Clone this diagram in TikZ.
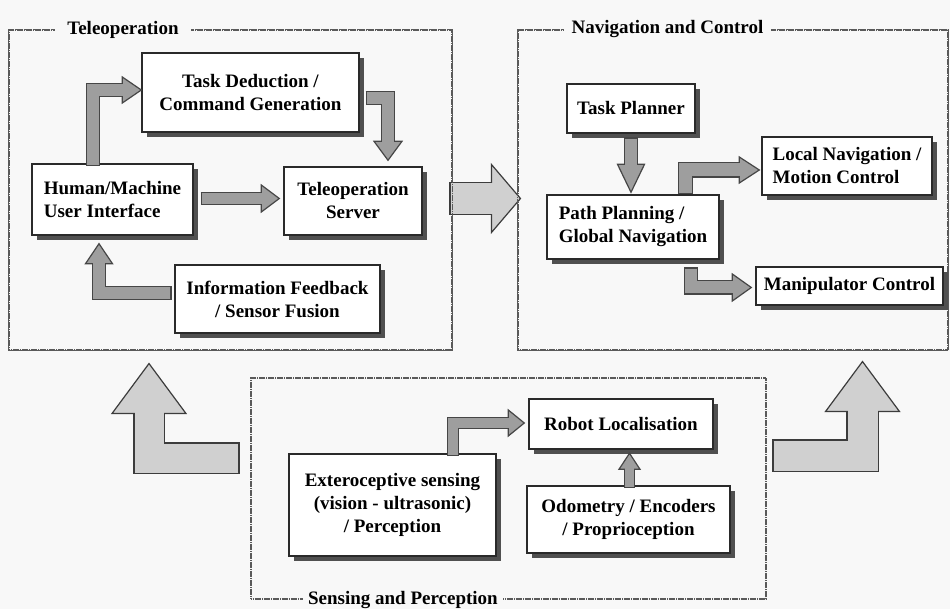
\documentclass[tikz,border=0pt]{standalone}
\usepackage{fontspec}
\setmainfont{Liberation Serif}
\usetikzlibrary{calc,shadows}

\definecolor{paper}{HTML}{F8F8F8}
\definecolor{edge}{HTML}{2A2A2A}
\definecolor{shade}{HTML}{505050}
\definecolor{smallfill}{HTML}{9E9E9E}
\definecolor{smalledgecol}{HTML}{464646}
\definecolor{bigfill}{HTML}{D0D0D0}
\definecolor{bigedgecol}{HTML}{3C3C3C}
\definecolor{framecol}{HTML}{5A5A5A}

\tikzset{
  box/.style={draw=edge, line width=1.4pt, fill=white, inner sep=0pt,
    drop shadow={shadow xshift=5pt, shadow yshift=-5pt, fill=shade, opacity=1}},
  group/.style={draw=framecol, line width=1.1pt, dash pattern=on 1.4pt off 0.4pt, inner sep=0pt},
  grouplabel/.style={fill=paper, inner xsep=8pt, inner ysep=1pt},
  txt/.style={font=\bfseries\fontsize{19}{23}\selectfont, align=center},
  small edge/.style={draw=smalledgecol},
  small body/.style={draw=smallfill},
  small head/.style={fill=smallfill, draw=smalledgecol, line width=1.2pt, line join=miter},
  big edge/.style={draw=bigedgecol},
  big body/.style={draw=bigfill},
  big head/.style={fill=bigfill, draw=bigedgecol, line width=1.2pt, line join=miter},
}

% Block arrow: #1 kind (small|big), #2 shaft width, #3 head half-width,
% #4 head length, #5 start, #6 path operation, #7 head base, #8 direction
\newcommand\fatconn[8]{%
  \draw[#1 edge, line width=#2pt+2.4pt, shorten <=-1.2pt, line join=miter] #5 #6 #7;
  \begin{scope}[shift={#7}, rotate=#8]
    \filldraw[#1 head] (0,-#3) -- (#4,0) -- (0,#3) -- cycle;
  \end{scope}
  \draw[#1 body, line width=#2pt, shorten >=-2pt, line join=miter] #5 #6 #7;
}

\begin{document}
\begin{tikzpicture}[x=1pt, y=-1pt]
\useasboundingbox (0,0) rectangle (950,609);
\fill[paper] (0,0) rectangle (950,609);

% group frames
\node[group, minimum width=443pt, minimum height=320pt] (teleop) at (230.5,190) {};
\node[group, minimum width=430pt, minimum height=320pt] (nav) at (733,190) {};
\node[group, minimum width=515pt, minimum height=221pt] (sensing) at (508.5,488.5) {};

% flows between the groups
\fatconn{big}{31}{34}{29}{($(teleop.east)+(-2,8.5)$)}{--}{($(nav.west)+(-26,8.5)$)}{0}
\fatconn{big}{29}{37}{50}{($(sensing.west)+(-12,-30.5)$)}{-|}{($(teleop.south)+(-81.5,63)$)}{90}
\fatconn{big}{30}{37}{50}{($(sensing.east)+(7,-33)$)}{-|}{($(nav.south)+(129.5,61)$)}{90}

% redraw frame edges over the big arrows
\draw[group] (teleop.north west) rectangle (teleop.south east);
\draw[group] (nav.north west) rectangle (nav.south east);

% group titles
\node[txt, grouplabel, inner xsep=12pt] (teleoplabel) at ($(teleop.north west)+(114.5,0)$) {Teleoperation};
\node[txt, grouplabel] (navlabel) at ($(nav.north west)+(150,0)$) {Navigation and Control};
\node[txt, grouplabel, inner xsep=5pt] (senslabel) at ($(sensing.south west)+(152.5,0)$) {Sensing and Perception};

% boxes
\node[box, txt, minimum width=217pt, minimum height=79pt] (task) at (250.5,92.5) {Task Deduction /\\Command Generation};
\node[box, txt, align=left, minimum width=161pt, minimum height=71pt] (hmi) at (112.5,199.5) {Human/Machine\\User Interface};
\node[box, txt, minimum width=138pt, minimum height=68pt] (server) at (353,201) {Teleoperation\\Server};
\node[box, txt, minimum width=205pt, minimum height=68pt] (info) at (277.5,299) {Information Feedback\\/ Sensor Fusion};

\node[box, txt, minimum width=128pt, minimum height=49pt] (planner) at (631,108.5) {Task Planner};
\node[box, txt, align=left, minimum width=172pt, minimum height=64pt] (path) at (633,227) {Path Planning /\\Global Navigation};
\node[box, txt, align=left, minimum width=170pt, minimum height=58pt] (local) at (847,166) {Local Navigation /\\Motion Control};
\node[box, txt, minimum width=187pt, minimum height=38pt] (manip) at (849.5,286) {Manipulator Control};

\node[box, txt, minimum width=207pt, minimum height=102pt] (extero) at (392.5,505) {Exteroceptive sensing\\(vision - ultrasonic)\\/ Perception};
\node[box, txt, minimum width=184pt, minimum height=50pt] (robot) at (621,424) {Robot Localisation};
\node[box, txt, minimum width=203pt, minimum height=67pt] (odo) at (628.5,519.5) {Odometry / Encoders\\/ Proprioception};

% teleoperation flows
\fatconn{small}{12}{13}{19}{($(hmi.north)+(-19.5,1.5)$)}{|-}{($(task.west)+(-19,-2.5)$)}{0}
\fatconn{small}{12.5}{14}{19}{($(task.east)+(7,5.5)$)}{-|}{($(server.north)+(35,-25)$)}{-90}
\fatconn{small}{11.5}{13.5}{18}{($(hmi.east)+(8,-1)$)}{--}{($(server.west)+(-22,-2.5)$)}{0}
\fatconn{small}{12}{13.5}{20}{($(info.west)+(-4,-6)$)}{-|}{($(hmi.south)+(-13.5,28)$)}{90}

% navigation flows
\fatconn{small}{12}{13.5}{28}{($(planner.south)+(0,5)$)}{--}{($(path.north)+(-2,-30)$)}{-90}
\fatconn{small}{13}{13}{20}{($(path.north)+(52.5,-1)$)}{|-}{($(local.west)+(-22,4)$)}{0}
\fatconn{small}{12}{13.5}{19}{($(path.south)+(58,9)$)}{|-}{($(manip.west)+(-23,1.5)$)}{0}

% sensing flows
\fatconn{small}{10}{13}{16}{($(extero.north)+(60.5,1.5)$)}{|-}{($(robot.west)+(-20,-1)$)}{0}
\fatconn{small}{9}{10.5}{16}{($(odo.north)+(1,1.5)$)}{--}{($(odo.north)+(1,-16)$)}{90}
\end{tikzpicture}
\end{document}
